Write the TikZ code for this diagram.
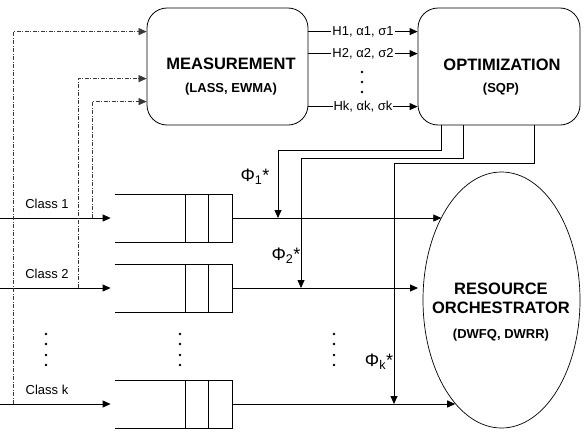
\documentclass[tikz,border=0pt]{standalone}
\usepackage{fontspec}
\setmainfont{Liberation Sans}
\usetikzlibrary{positioning,arrows.meta,shapes.geometric}
\definecolor{ink}{HTML}{000000}
\definecolor{tapline}{HTML}{3A3A3A}

\begin{document}
\begin{tikzpicture}[x=1pt,y=-1pt,line width=0.8pt,>={Triangle[length=8pt,width=7pt]},
    procbox/.style={draw=ink,rounded corners=20pt,minimum width=161pt,minimum height=117pt,inner sep=0pt},
    title/.style={font=\fontsize{16.5}{18}\selectfont\bfseries,text=ink,inner sep=0pt},
    subtitle/.style={font=\fontsize{13}{15}\selectfont\bfseries,text=ink,inner sep=0pt},
    lbl/.style={font=\fontsize{13}{15}\selectfont,text=ink,inner sep=1pt},
    philbl/.style={font=\fontsize{18}{20}\selectfont,text=ink,inner sep=0pt},
    tap/.style={draw=tapline,line width=0.6pt,dash pattern=on 4pt off 1.5pt on 1pt off 1.5pt}]
      \useasboundingbox (0,0) rectangle (586,434);
      \node[procbox] (meas) at (227.5,66.5) {};
      \node[procbox,minimum width=162pt] (opt) at (499,66.5) {};
      \node[title] (meastxt) at (231,64) {MEASUREMENT};
      \node[subtitle] (meassub) at (231,89) {(LASS, EWMA)};
      \node[title] (opttxt) at (502,65) {OPTIMIZATION};
      \node[subtitle] (optsub) at (501,89) {(SQP)};
      \node[draw=ink,line width=0.7pt,ellipse,minimum width=157pt,minimum height=256pt,inner sep=0pt] (orch) at (501.5,300) {};
      \node[title] (orchtxt1) at (501,289) {RESOURCE};
      \node[title] (orchtxt2) at (501,308) {ORCHESTRATOR};
      \node[subtitle] (orchsub) at (501,335) {(DWFQ, DWRR)};
      \foreach \dy/\n/\t in {24/1/{H1, α1, σ1},46/2/{H2, α2, σ2},99/k/{Hk, αk, σk}}{
        \draw[->] ([yshift=-\dy pt]meas.north east) -- ([yshift=-\dy pt]opt.north west)
          node[midway,fill=white,lbl] (h\n) {\t};}
      \foreach \y in {72,82,92}{
        \fill[ink] (362,\y) circle (1.4);}
      \foreach \q/\y/\c in {q1/218/1,q2/288/2,qk/404/k}{
        \node[minimum width=117pt,minimum height=47pt,inner sep=0pt] (\q) at (173.5,\y) {};
        \draw (\q.north west) -- (\q.north east) -- (\q.south east) -- (\q.south west)
          ([xshift=-47pt]\q.north east) -- ([xshift=-47pt]\q.south east)
          ([xshift=-24pt]\q.north east) -- ([xshift=-24pt]\q.south east);
        \coordinate (in\c) at (0,\y);
        \draw[->,shorten >=4pt] (in\c) -- (\q.west);
        \node[lbl] (cls\c) at (47,\y-14) {Class \c};}
      \foreach \x in {46,180,334}{
        \foreach \y in {334,344,355,365}{
          \fill[ink] (\x,\y) circle (1.4);}}
      \draw[->] (q1.east) -- (q1.east -| orch.126);
      \draw[->,shorten >=5pt] (q2.east) -- (q2.east -| orch.171);
      \draw[->] (qk.east) -- (qk.east -| orch.246);
      \coordinate (tap1) at (92,218);
      \coordinate (tap2) at (78,288);
      \coordinate (tapk) at (13,404);
      \draw[tap,->] (tap1) |- ([yshift=-94pt]meas.north west);
      \draw[tap,->] (tap2) |- ([yshift=-71pt]meas.north west);
      \draw[tap,->] (tapk) |- ([yshift=-24pt]meas.north west);
      \coordinate (j1) at (278,218);
      \coordinate (j2) at (301,288);
      \coordinate (jk) at (394,404);
      \draw[->] ([xshift=24pt]opt.south west) -- ++(0,25) -| (j1);
      \draw[->] ([xshift=46pt]opt.south west) -- ++(0,33) -| (j2);
      \draw[->] ([xshift=117pt]opt.south west) -- ++(0,38) -| (jk);
      \node[philbl] (phi1) at (255,177) {Φ\textsubscript{1}*};
      \node[philbl] (phi2) at (286,256) {Φ\textsubscript{2}*};
      \node[philbl] (phik) at (379,362) {Φ\textsubscript{k}*};
    \end{tikzpicture}
\end{document}
